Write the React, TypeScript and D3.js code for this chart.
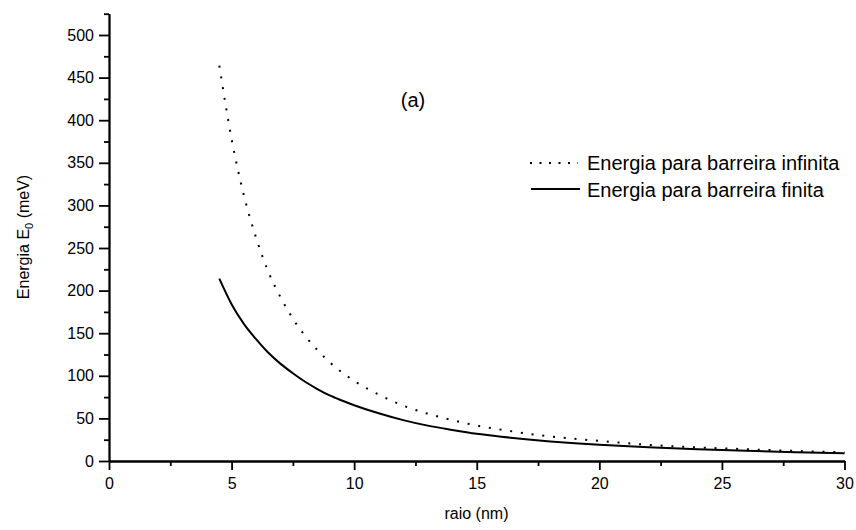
import React, { useEffect, useRef } from 'react';
import * as d3 from 'd3';

// raio (nm) e energia (meV)
const raioInfinita = [4.5, 5, 5.5, 6, 6.5, 7, 7.5, 8, 9, 10, 11, 12, 13, 14, 15, 16, 17, 18, 19, 20, 22, 24, 26, 28, 30];
const energiaInfinita = [464, 378, 312, 262, 222, 192, 167, 147, 116, 94, 78, 65, 55.5, 48, 41.6, 36.8, 32.4, 28.8, 26, 23.6, 19, 16, 13.8, 11.8, 10.2];

const raioFinita = [4.5, 5, 5.5, 6, 6.5, 7, 7.5, 8, 8.5, 9, 9.5, 10, 11, 12, 13, 14, 15, 16, 17, 18, 19, 20, 22, 24, 26, 28, 30];
const energiaFinita = [214, 184, 161, 143, 127, 114, 103, 93, 84.5, 77, 71, 65.5, 56, 48, 41.5, 36.5, 32, 28.5, 25.5, 23, 20.9, 19.1, 16, 13.7, 11.9, 10.3, 9];

const yTicks = [0, 50, 100, 150, 200, 250, 300, 350, 400, 450, 500];
const yMinor = [25, 75, 125, 175, 225, 275, 325, 375, 425, 475, 525];
const xTicks = [0, 5, 10, 15, 20, 25, 30];
const xMinor = [2.5, 7.5, 12.5, 17.5, 22.5, 27.5];

const legendLabels = ['Energia para barreira infinita', 'Energia para barreira finita'];

const FONT = 'Arial, "Liberation Sans", sans-serif';

export default function App() {
  const ref = useRef<SVGSVGElement>(null);

  useEffect(() => {
    const svg = d3.select(ref.current);
    svg.selectAll('*').remove();

    const x = d3.scaleLinear().domain([0, 30]).range([109, 844.5]);
    const y = d3.scaleLinear().domain([0, 525]).range([461, 13.7]);

    const styleAxis = (g: any) => {
      g.select('.domain').attr('stroke', '#000').attr('stroke-width', 1.8);
      g.selectAll('.tick line').attr('stroke', '#000').attr('stroke-width', 1.8);
      g.selectAll('.tick text')
        .attr('fill', '#000')
        .style('font-family', FONT)
        .style('font-size', '16px');
    };

    // minor ticks first
    svg.append('g')
      .attr('transform', 'translate(109,0)')
      .call(d3.axisLeft(y).tickValues(yMinor).tickSize(5).tickSizeOuter(0).tickFormat(() => ''))
      .call(styleAxis);
    svg.append('g')
      .attr('transform', 'translate(0,461)')
      .call(d3.axisBottom(x).tickValues(xMinor).tickSize(5).tickSizeOuter(0).tickFormat(() => ''))
      .call(styleAxis);

    svg.append('g')
      .attr('transform', 'translate(109,0)')
      .call(d3.axisLeft(y).tickValues(yTicks).tickSize(10).tickPadding(5).tickSizeOuter(0))
      .call(styleAxis);
    svg.append('g')
      .attr('transform', 'translate(0,461)')
      .call(d3.axisBottom(x).tickValues(xTicks).tickSize(9).tickPadding(8).tickSizeOuter(0))
      .call(styleAxis);

    const line = d3.line().curve(d3.curveMonotoneX);

    svg.append('path')
      .datum(raioInfinita.map((r, i) => [x(r), y(energiaInfinita[i])] as [number, number]))
      .attr('d', line as any)
      .attr('fill', 'none')
      .attr('stroke', '#000')
      .attr('stroke-width', 2)
      .attr('stroke-dasharray', '2 8.8');

    svg.append('path')
      .datum(raioFinita.map((r, i) => [x(r), y(energiaFinita[i])] as [number, number]))
      .attr('d', line as any)
      .attr('fill', 'none')
      .attr('stroke', '#000')
      .attr('stroke-width', 2);

    // legenda
    const leg = svg.append('g');
    leg.append('line')
      .attr('x1', 530).attr('x2', 578).attr('y1', 163).attr('y2', 163)
      .attr('stroke', '#000').attr('stroke-width', 2).attr('stroke-dasharray', '2 7.5');
    leg.append('line')
      .attr('x1', 531).attr('x2', 580).attr('y1', 189).attr('y2', 189)
      .attr('stroke', '#000').attr('stroke-width', 2);
    leg.selectAll('text.leg')
      .data(legendLabels)
      .enter()
      .append('text')
      .classed('leg', true)
      .attr('x', 587)
      .attr('y', (d, i) => 170 + i * 27)
      .style('font-family', FONT)
      .style('font-size', '20px')
      .text(d => d);

    svg.append('text')
      .attr('x', 413)
      .attr('y', 107)
      .attr('text-anchor', 'middle')
      .style('font-family', FONT)
      .style('font-size', '20px')
      .text('(a)');

    svg.append('text')
      .attr('x', 476.5)
      .attr('y', 519)
      .attr('text-anchor', 'middle')
      .style('font-family', FONT)
      .style('font-size', '16px')
      .text('raio (nm)');

    const yl = svg.append('text')
      .attr('transform', 'translate(29,237) rotate(-90)')
      .attr('text-anchor', 'middle')
      .style('font-family', FONT)
      .style('font-size', '16px');
    yl.append('tspan').text('Energia E');
    yl.append('tspan').attr('dy', 4).style('font-size', '11px').text('0');
    yl.append('tspan').attr('dy', -4).text(' (meV)');
  }, []);

  return (
    <svg
      ref={ref}
      width={856}
      height={530}
      style={{ position: 'absolute', left: 0, top: 0, background: '#fff' }}
    />
  );
}
